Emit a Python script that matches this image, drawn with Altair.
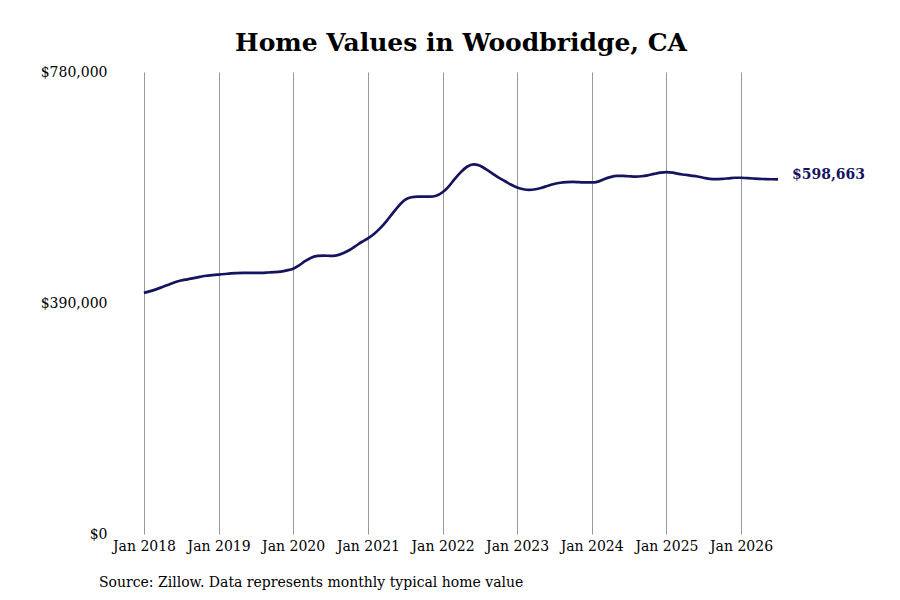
import pandas as pd
import altair as alt

# monthly typical home value, Jan 2018 - Jul 2026
v2018 = [407000, 410000, 413000, 417000, 421000, 425000, 428000, 430000, 432000, 434000, 436000, 437000]
v2019 = [438000, 439000, 440000, 440500, 440800, 441000, 441000, 441000, 441500, 442000, 443000, 445000]
v2020 = [448000, 454000, 461000, 467000, 469500, 470000, 469500, 470500, 474000, 479000, 486000, 493000]
v2021 = [499000, 507000, 516000, 528000, 541000, 554000, 564000, 568500, 569500, 569500, 569500, 571000]
v2022 = [577000, 587000, 599000, 611000, 620000, 624000, 622000, 616000, 609000, 602000, 596000, 590000]
v2023 = [585000, 582000, 581000, 582000, 584500, 588000, 591000, 593000, 594000, 594500, 594000, 593500]
v2024 = [593500, 595000, 599000, 602500, 604500, 604500, 604000, 603500, 604000, 605500, 608000, 610000]
v2025 = [611000, 610000, 608000, 606500, 605000, 603500, 601500, 599500, 599000, 599500, 600500, 601500]
v2026 = [601500, 600800, 600200, 599600, 599200, 598900, 598663]

values = v2018 + v2019 + v2020 + v2021 + v2022 + v2023 + v2024 + v2025 + v2026
dates = pd.date_range("2018-01-01", periods=len(values), freq="MS")
data = pd.DataFrame({"date": dates, "value": values})

y_ticks = [0, 390000, 780000]
navy = "#17145f"
font = "DejaVu Serif"

x_enc = alt.X(
    "date:T",
    scale=alt.Scale(domain=["2018-01-01", "2026-07-01"]),
    axis=alt.Axis(
        title=None, format="Jan %Y", tickCount={"interval": "year", "step": 1},
        grid=True, gridColor="#999999", gridWidth=1, domain=False, ticks=False,
        labelFontSize=14, labelColor="#000000", labelPadding=5, labelFont=font,
        labelOverlap=False, labelFlush=False
    )
)
y_enc = alt.Y(
    "value:Q",
    scale=alt.Scale(domain=[0, 780000], nice=False),
    axis=alt.Axis(
        title=None, values=y_ticks, format="$,.0f", grid=False, domain=False,
        ticks=False, labelFontSize=14, labelColor="#000000", labelPadding=37,
        labelFont=font
    )
)

line = alt.Chart(data).mark_line(
    color=navy, strokeWidth=2.7, interpolate="monotone"
).encode(x=x_enc, y=y_enc)

last = data.tail(1)
label = alt.Chart(last).mark_text(
    align="left", dx=14, dy=-4, fontSize=14, fontWeight="bold", color=navy, font=font
).encode(x="date:T", y="value:Q", text=alt.Text("value:Q", format="$,.0f"))

source = alt.Chart(pd.DataFrame({"t": ["Source: Zillow. Data represents monthly typical home value"]})).mark_text(
    align="left", baseline="middle", fontSize=14, color="#000000", font=font
).encode(x=alt.value(-45), y=alt.value(511), text="t:N")

chart = (line + label + source).properties(
    width=634,
    height=462,
    background="#ffffff",
    title=alt.Title(
        "Home Values in Woodbridge, CA", fontSize=25, font=font, fontWeight="bold",
        color="#000000", anchor="middle", offset=9
    ),
    autosize=alt.AutoSizeParams(type="none"),
    padding={"left": 136, "top": 64, "right": 110, "bottom": 60}
).configure_view(stroke=None)

chart.save("out.html", embed_options={"renderer": "svg", "actions": False})
